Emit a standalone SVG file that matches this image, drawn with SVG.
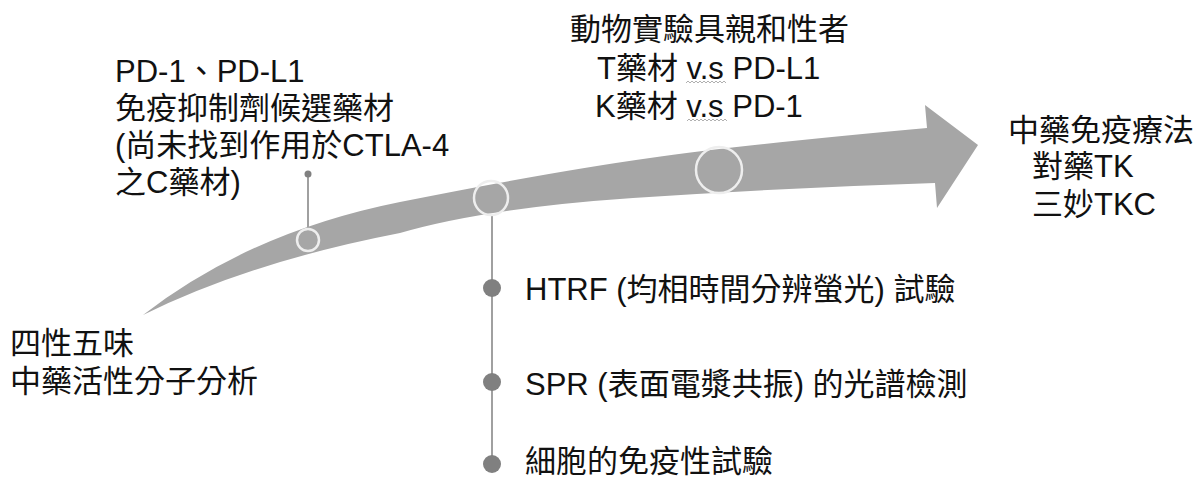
<svg xmlns="http://www.w3.org/2000/svg" width="1199" height="480" viewBox="0 0 1199 480">
<style>
text{font-family:"Liberation Sans","Noto Sans CJK TC",sans-serif;font-size:31px;fill:#111111}
.ring{fill:none;stroke:#eeeeee;stroke-width:2.5}
.dot{fill:#808080}
.vline{stroke:#a0a0a0;stroke-width:2;fill:none}
.squig{stroke:#b0b0b0;stroke-width:1;fill:none}
</style>
<rect width="1199" height="480" fill="#ffffff"/>
<g id="arrow">
<path d="M143,315 Q250,232 400,202 T650,158 T927,128 L925,105 L978,145 L937,208 L935,183 Q780,188 633,198 T400,233 Q250,262 143,315 Z" fill="#a6a6a6"/>
</g>
<g id="connectors">
<line class="vline" x1="308" y1="229" x2="308" y2="174" stroke-width="1.5"/>
<line class="vline" x1="492" y1="215" x2="492" y2="466"/>
</g>
<g id="milestone1">
<circle class="ring" cx="308" cy="240" r="11"/>
<circle class="dot" cx="308" cy="174" r="3.5"/>
</g>
<g id="milestone2">
<circle class="ring" cx="491" cy="198" r="17"/>
</g>
<g id="milestone3">
<circle class="ring" cx="719" cy="170" r="23"/>
</g>
<g id="node-start">
<text x="10" y="354">四性五味</text>
<text x="10" y="392">中藥活性分子分析</text>
</g>
<g id="node-pd">
<text x="115" y="82">PD-1、PD-L1</text>
<text x="115" y="119">免疫抑制劑候選藥材</text>
<text x="115" y="156">(尚未找到作用於CTLA-4</text>
<text x="115" y="193">之C藥材)</text>
</g>
<g id="node-animal">
<text x="570" y="40">動物實驗具親和性者</text>
<text x="597" y="79">T藥材 v.s PD-L1</text>
<text x="595" y="117">K藥材 v.s PD-1</text>
<path class="squig" d="M686,83 l2,-2 l2,2 l2,-2 l2,2 l2,-2 l2,2 l2,-2 l2,2 l2,-2 l2,2 l2,-2 l2,2 l2,-2 l2,2 l2,-2 l2,2 l2,-2 l2,2 l2,-2 l2,2"/>
<path class="squig" d="M687,121 l2,-2 l2,2 l2,-2 l2,2 l2,-2 l2,2 l2,-2 l2,2 l2,-2 l2,2 l2,-2 l2,2 l2,-2 l2,2 l2,-2 l2,2 l2,-2 l2,2 l2,-2 l2,2"/>
</g>
<g id="node-end">
<text x="1008" y="141">中藥免疫療法</text>
<text x="1032" y="177">對藥TK</text>
<text x="1032" y="215">三妙TKC</text>
</g>
<g id="node-htrf">
<circle class="dot" cx="492" cy="288" r="9"/>
<text x="525" y="300">HTRF (均相時間分辨螢光) 試驗</text>
</g>
<g id="node-spr">
<circle class="dot" cx="492" cy="382" r="9"/>
<text x="525" y="395">SPR (表面電漿共振) 的光譜檢測</text>
</g>
<g id="node-cell">
<circle class="dot" cx="492" cy="464" r="9"/>
<text x="525" y="472">細胞的免疫性試驗</text>
</g>
</svg>
